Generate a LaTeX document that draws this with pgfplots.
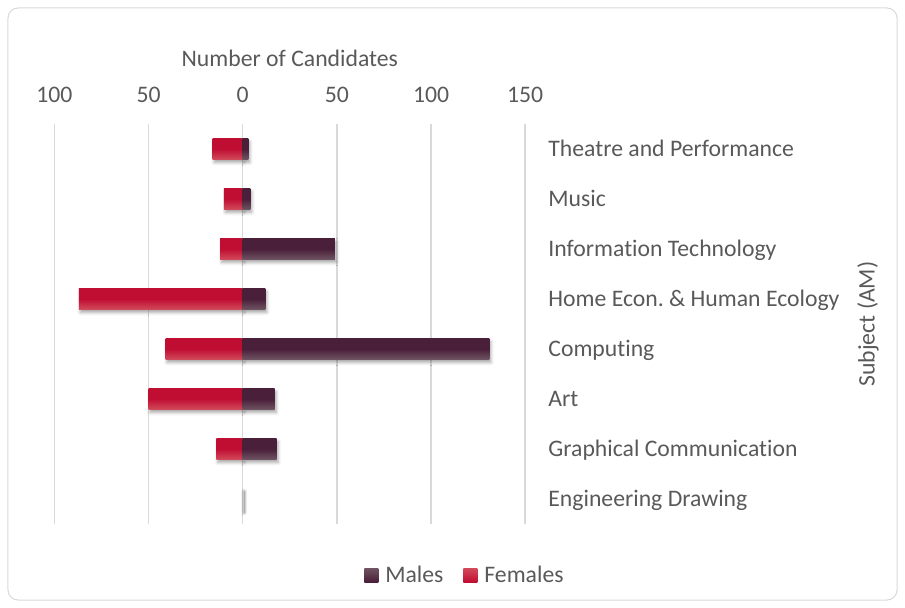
\documentclass[border=0pt]{standalone}
\usepackage{fontspec}
\setmainfont{Carlito}[Ligatures=NoCommon]
\usepackage{pgfplots}
\pgfplotsset{compat=1.18}
\usetikzlibrary{shadows.blur}
\definecolor{txt}{HTML}{595959}
\definecolor{gridc}{HTML}{D9D9D9}
\definecolor{mtop}{HTML}{4A1F39}
\definecolor{mbot}{HTML}{6F5563}
\definecolor{ftop}{HTML}{C00E33}
\definecolor{fbot}{HTML}{D24B5B}
\pgfplotsset{
  sh/.style={blur shadow={shadow xshift=1.5bp, shadow yshift=-3bp, shadow blur radius=3bp, shadow opacity=35}},
  mbar/.style={xbar, bar shift=0pt, bar width=0.42, draw=none, top color=mtop, bottom color=mbot, middle color=mtop, forget plot, sh},
  fbar/.style={xbar, bar shift=0pt, bar width=0.42, draw=none, top color=ftop, bottom color=fbot, middle color=ftop, forget plot, sh},
}
\begin{document}
\frenchspacing
\fontsize{23.8}{28}\selectfont
\begin{tikzpicture}
\path[use as bounding box] (-54.4bp,-84bp) rectangle (850.6bp,524bp);
\draw[gridc, line width=1bp, rounded corners=10bp] (-46.4bp,-76bp) rectangle (842.6bp,516bp);
\begin{axis}[at={(0,0)}, anchor=south west, scale only axis,
  width=470.8bp, height=400bp,
  xmin=-100, xmax=150, ymin=-0.5, ymax=7.5, y dir=reverse,
  xtick={-100,-50,0,50,100,150}, xticklabels={100,50,0,50,100,150},
  ytick={0,1,2,3,4,5,6,7},
  yticklabels={Theatre and Performance, Music, Information Technology, Home Econ. \& Human Ecology, Computing, Art, Graphical Communication, Engineering Drawing},
  xticklabel pos=upper, yticklabel pos=right,
  tick style={draw=none},
  axis line style={draw=none},
  xmajorgrids, major grid style={gridc, line width=1.5bp},
  xticklabel style={anchor=base, inner sep=0pt, yshift=22bp, text=txt},
  yticklabel style={anchor=west, inner sep=0pt, xshift=23bp, yshift=-1bp, text=txt, text height=0.75em, text depth=0.2em},
  xlabel={Number of Candidates},
  xlabel style={at={(axis description cs:0.5,1)}, anchor=base, inner sep=0pt, yshift=57.5bp, text=txt},
  ylabel={Subject (AM)},
  ylabel style={at={(axis description cs:1.728,0.5)}, anchor=center, text=txt},
  legend style={at={(axis description cs:0.872,-0.13)}, anchor=center, draw=none, fill=none,
    text=txt, inner sep=0pt,
    /tikz/every odd column/.append style={column sep=5bp},
    /tikz/every even column/.append style={column sep=18bp}},
  legend columns=2,
  legend image code/.code={\path[#1] (0bp,-6bp) rectangle (14bp,8bp);},
]
% Females (plotted as negative values)
\addplot[fbar] coordinates {(-16,0)};
\addplot[fbar] coordinates {(-10,1)};
\addplot[fbar] coordinates {(-12,2)};
\addplot[fbar] coordinates {(-87,3)};
\addplot[fbar] coordinates {(-41,4)};
\addplot[fbar] coordinates {(-50,5)};
\addplot[fbar] coordinates {(-14,6)};
\addplot[fbar] coordinates {(0,7)};
% Males
\addplot[mbar] coordinates {(3,0)};
\addplot[mbar] coordinates {(4,1)};
\addplot[mbar] coordinates {(49,2)};
\addplot[mbar] coordinates {(12,3)};
\addplot[mbar] coordinates {(131,4)};
\addplot[mbar] coordinates {(17,5)};
\addplot[mbar] coordinates {(18,6)};
\addplot[mbar] coordinates {(0,7)};
\addlegendimage{top color=mbot, bottom color=mtop, draw=none}
\addlegendentry{Males}
\addlegendimage{top color=fbot, bottom color=ftop, draw=none}
\addlegendentry{Females}
\end{axis}
\end{tikzpicture}
\end{document}
